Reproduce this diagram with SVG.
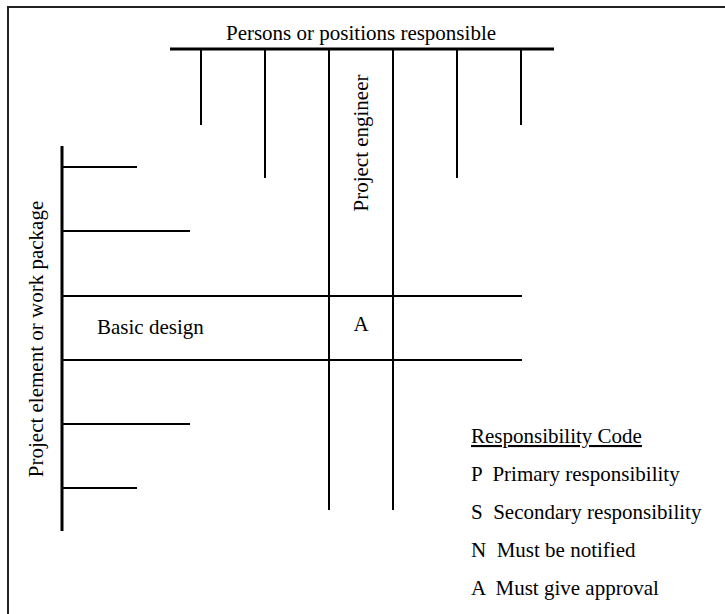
<svg xmlns="http://www.w3.org/2000/svg" width="725" height="614" viewBox="0 0 725 614" font-family="'Liberation Serif', 'Times New Roman', 'DejaVu Serif', serif">
<style>
text{font-family:'Liberation Serif','Times New Roman','DejaVu Serif',serif;font-size:21px;fill:#000}
.ln{stroke:#000;stroke-width:2;fill:none}
.thick{stroke:#000;stroke-width:3;fill:none}
.frame{stroke:#222;stroke-width:2;fill:none}
</style>
<rect width="725" height="614" fill="#fff"/>
<g id="frame"><path class="frame" d="M8 614V7H725"/></g>
<g id="connectors">
<line class="thick" x1="170" y1="49" x2="554" y2="49"/>
<line class="ln" x1="201" y1="49" x2="201" y2="125"/>
<line class="ln" x1="265" y1="49" x2="265" y2="178"/>
<line class="ln" x1="329" y1="49" x2="329" y2="510"/>
<line class="ln" x1="393" y1="49" x2="393" y2="510"/>
<line class="ln" x1="457" y1="49" x2="457" y2="178"/>
<line class="ln" x1="521" y1="49" x2="521" y2="125"/>
<line class="thick" x1="62" y1="146" x2="62" y2="531"/>
<line class="ln" x1="62" y1="167" x2="137" y2="167"/>
<line class="ln" x1="62" y1="231" x2="190" y2="231"/>
<line class="ln" x1="62" y1="296" x2="522" y2="296"/>
<line class="ln" x1="62" y1="360" x2="522" y2="360"/>
<line class="ln" x1="62" y1="424" x2="190" y2="424"/>
<line class="ln" x1="62" y1="488" x2="137" y2="488"/>
</g>
<g id="title"><text x="361" y="40" text-anchor="middle">Persons or positions responsible</text></g>
<g id="project-engineer"><text transform="translate(368,143) rotate(-90)" text-anchor="middle">Project engineer</text></g>
<g id="project-element"><text transform="translate(43,339) rotate(-90)" text-anchor="middle">Project element or work package</text></g>
<g id="basic-design"><text x="97" y="334">Basic design</text></g>
<g id="cell-a"><text x="361" y="331" text-anchor="middle">A</text></g>
<g id="legend">
<text x="471" y="443" text-decoration="underline">Responsibility Code</text>
<text x="471" y="481" xml:space="preserve">P  Primary responsibility</text>
<text x="471" y="519" xml:space="preserve">S  Secondary responsibility</text>
<text x="471" y="557" xml:space="preserve">N  Must be notified</text>
<text x="471" y="595" xml:space="preserve">A  Must give approval</text>
</g>
</svg>
